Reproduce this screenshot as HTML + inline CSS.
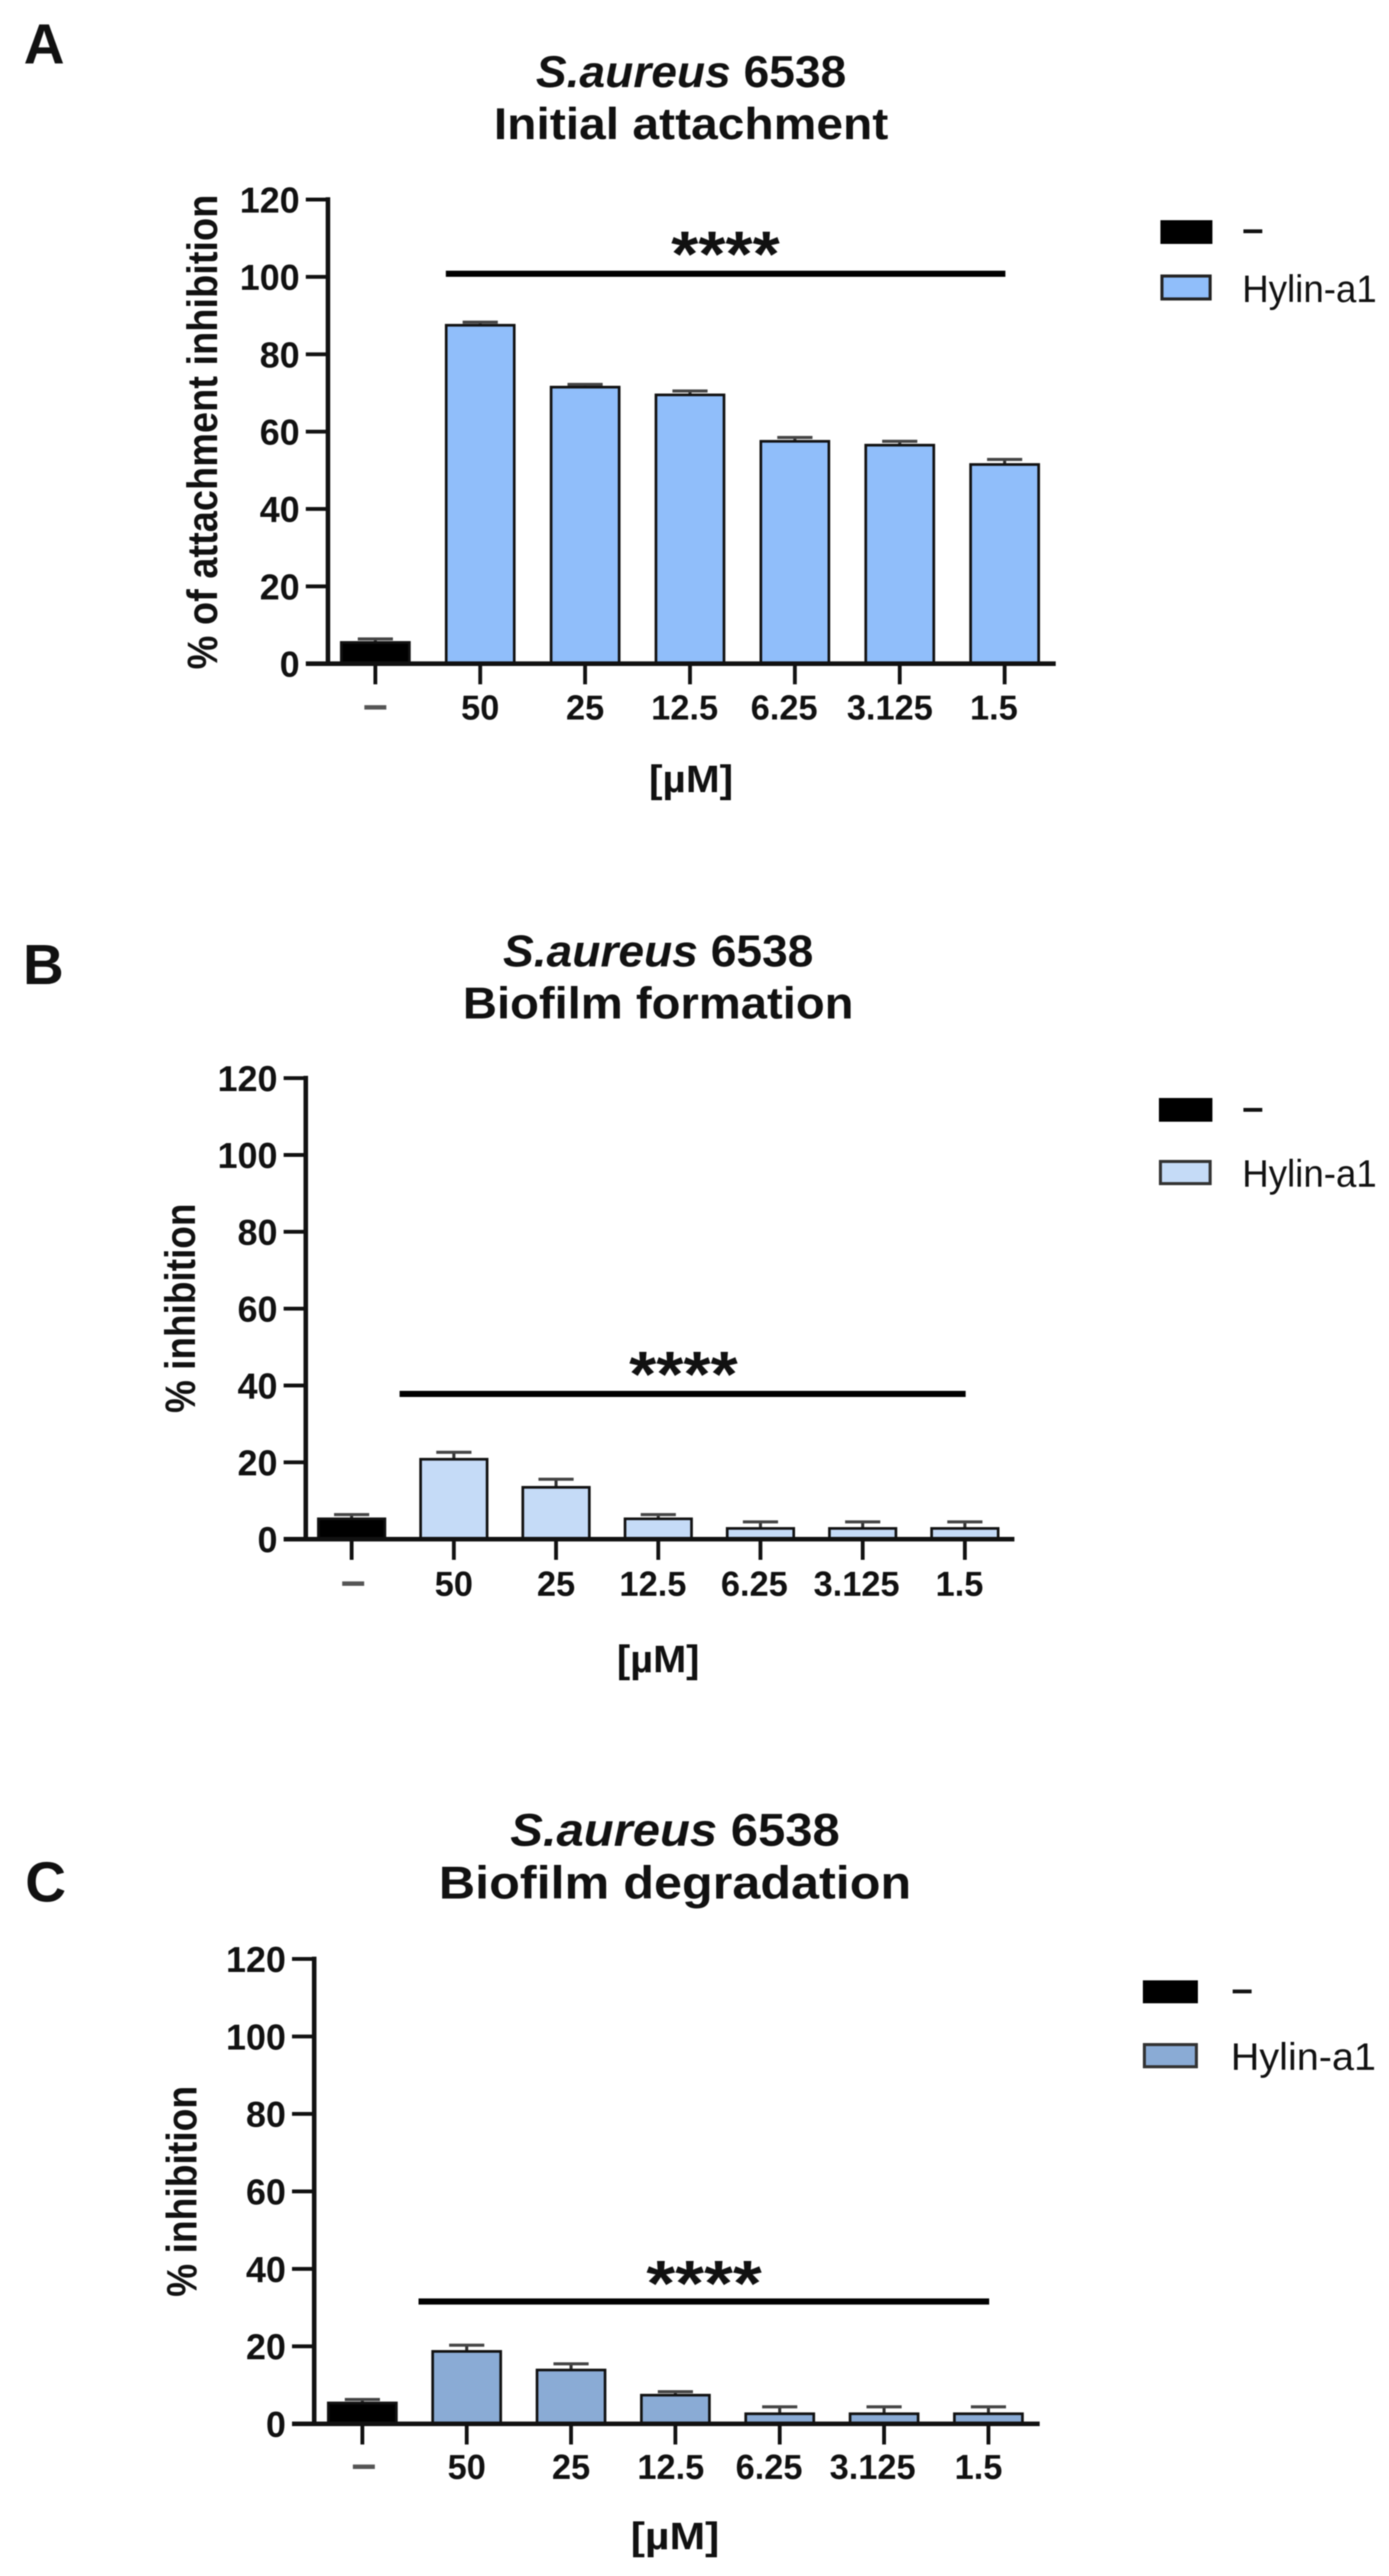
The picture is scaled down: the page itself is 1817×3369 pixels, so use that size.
<!DOCTYPE html>
<html lang="en">
<head>
<meta charset="utf-8">
<title>S.aureus 6538 Hylin-a1 inhibition charts</title>
<style>
html,body{margin:0;padding:0;background:#fff;}
body{width:1817px;height:3369px;overflow:hidden;}
svg{display:block;filter:blur(0.8px);}
text{font-family:"Liberation Sans",sans-serif;fill:#111;}
.b{font-weight:bold;}
</style>
</head>
<body>
<svg id="fig" xmlns="http://www.w3.org/2000/svg" width="1817" height="3369" viewBox="0 0 1817 3369">
  <rect x="0" y="0" width="1817" height="3369" fill="#fff"/>

  <text class="b" x="31" y="83" font-size="74">A</text>
  <text class="b" x="904" y="114" font-size="58" text-anchor="middle" textLength="406" lengthAdjust="spacingAndGlyphs"><tspan font-style="italic">S.aureus</tspan> 6538</text>
  <text class="b" x="904" y="182" font-size="58" text-anchor="middle" textLength="516" lengthAdjust="spacingAndGlyphs">Initial attachment</text>
  <text class="b" transform="translate(284,565) rotate(-90)" font-size="56" text-anchor="middle" textLength="621" lengthAdjust="spacingAndGlyphs">% of attachment inhibition</text>
  <text class="b" x="904" y="1036" font-size="50" text-anchor="middle" textLength="110" lengthAdjust="spacingAndGlyphs">[µM]</text>
  <text class="b" x="949" y="361" font-size="84" text-anchor="middle" textLength="142" lengthAdjust="spacingAndGlyphs">****</text>
  <rect x="1518" y="288" width="68" height="31" fill="#000"/>
  <text class="b" x="1625" y="316" font-size="50">–</text>
  <rect x="1520" y="361" width="63" height="30" fill="#90BEFA" stroke="#222" stroke-width="4"/>
  <text x="1625" y="395" font-size="50" textLength="176" lengthAdjust="spacingAndGlyphs">Hylin-a1</text>

  <text class="b" x="30" y="1287" font-size="74">B</text>
  <text class="b" x="861" y="1264" font-size="58" text-anchor="middle" textLength="406" lengthAdjust="spacingAndGlyphs"><tspan font-style="italic">S.aureus</tspan> 6538</text>
  <text class="b" x="861" y="1332" font-size="58" text-anchor="middle" textLength="511" lengthAdjust="spacingAndGlyphs">Biofilm formation</text>
  <text class="b" transform="translate(255,1711) rotate(-90)" font-size="56" text-anchor="middle" textLength="274" lengthAdjust="spacingAndGlyphs">% inhibition</text>
  <text class="b" x="861" y="2187" font-size="50" text-anchor="middle" textLength="108" lengthAdjust="spacingAndGlyphs">[µM]</text>
  <text class="b" x="894" y="1826" font-size="84" text-anchor="middle" textLength="142" lengthAdjust="spacingAndGlyphs">****</text>
  <rect x="1516" y="1436" width="70" height="31" fill="#000"/>
  <text class="b" x="1625" y="1465" font-size="50">–</text>
  <rect x="1518" y="1519" width="65" height="29" fill="#C5DBF7" stroke="#333" stroke-width="4"/>
  <text x="1625" y="1552" font-size="50" textLength="176" lengthAdjust="spacingAndGlyphs">Hylin-a1</text>

  <text class="b" x="33" y="2487" font-size="74">C</text>
  <text class="b" x="883" y="2414" font-size="60" text-anchor="middle" textLength="431" lengthAdjust="spacingAndGlyphs"><tspan font-style="italic">S.aureus</tspan> 6538</text>
  <text class="b" x="883" y="2483" font-size="60" text-anchor="middle" textLength="618" lengthAdjust="spacingAndGlyphs">Biofilm degradation</text>
  <text class="b" transform="translate(257,2866) rotate(-90)" font-size="56" text-anchor="middle" textLength="276" lengthAdjust="spacingAndGlyphs">% inhibition</text>
  <text class="b" x="883" y="3334" font-size="50" text-anchor="middle" textLength="116" lengthAdjust="spacingAndGlyphs">[µM]</text>
  <text class="b" x="921" y="3015" font-size="84" text-anchor="middle" textLength="151" lengthAdjust="spacingAndGlyphs">****</text>
  <rect x="1495" y="2590" width="72" height="30" fill="#000"/>
  <text class="b" x="1611" y="2618" font-size="50">–</text>
  <rect x="1497" y="2674" width="68" height="29" fill="#8AABD5" stroke="#333" stroke-width="4"/>
  <text x="1610" y="2707" font-size="50" textLength="190" lengthAdjust="spacingAndGlyphs">Hylin-a1</text>
</svg>
<script>
const categories = ['–', '50', '25', '12.5', '6.25', '3.125', '1.5'];
const yTickLabels = [0, 20, 40, 60, 80, 100, 120];
const panelAValues = [5.5, 87.5, 71.5, 69.5, 57.5, 56.5, 51.5];
const panelAErrors = [0.9, 0.8, 0.7, 1.0, 1.0, 1.0, 1.3];
const panelBValues = [5.3, 20.8, 13.5, 5.3, 2.8, 2.8, 2.8];
const panelBErrors = [1.1, 1.8, 2.1, 1.1, 1.7, 1.7, 1.7];
const panelCValues = [5.4, 18.7, 13.9, 7.4, 2.6, 2.6, 2.6];
const panelCErrors = [0.9, 1.6, 1.6, 0.9, 1.8, 1.8, 1.8];

const SVGNS = 'http://www.w3.org/2000/svg';
const fig = document.getElementById('fig');
function mk(tag, attrs) {
  const el = document.createElementNS(SVGNS, tag);
  for (const k in attrs) el.setAttribute(k, attrs[k]);
  fig.appendChild(el);
  return el;
}
function drawPanel(p, values, errors) {
  const yPx = v => p.y0 + (p.y120 - p.y0) * v / 120;
  const xPx = i => p.x0 + p.step * i;

  const yAxis = mk('line', {x1: p.axisX, x2: p.axisX, y1: p.y120 - 3, y2: p.y0 + 3, stroke: '#111', 'stroke-width': 6});
  
  

  yTickLabels.forEach(t => {
    const tick = mk('line', {x1: p.axisX - 29, x2: p.axisX, y1: yPx(t), y2: yPx(t), stroke: '#111', 'stroke-width': 5});
    
    
    const lab = mk('text', {x: p.axisX - 37, y: yPx(t) + 17, 'font-size': 47, 'text-anchor': 'end', class: 'b'});
    lab.textContent = t;
    
    
  });

  categories.forEach((c, i) => {
    const x = xPx(i);
    const isControl = i === 0;

    const errLine = mk('line', {x1: x, x2: x, y1: yPx(values[i]), y2: yPx(values[i] + errors[i]), stroke: '#333', 'stroke-width': 4});
    
    
    const cap = mk('line', {x1: x - 23, x2: x + 23, y1: yPx(values[i] + errors[i]), y2: yPx(values[i] + errors[i]), stroke: '#444', 'stroke-width': 4});
    
    

    const bar = mk('rect', {
      x: x - p.barW / 2, y: yPx(values[i]), width: p.barW, height: p.y0 - yPx(values[i]),
      fill: isControl ? '#000' : p.color, stroke: '#111', 'stroke-width': 3.5
    });
    
    

    const xt = mk('line', {x1: x, x2: x, y1: p.y0, y2: p.y0 + 27, stroke: '#111', 'stroke-width': 5});
    
    

    const lab = mk('text', {x: x + p.labelNudge[i], y: p.labelY, 'font-size': isControl ? 58 : 45, 'text-anchor': 'middle', class: 'b'});
    lab.textContent = c;
    if (isControl) lab.setAttribute('style', 'fill:#555');
    
    
  });

  const xAxis = mk('line', {x1: p.axisX - 29, x2: p.axisEnd, y1: p.y0, y2: p.y0, stroke: '#111', 'stroke-width': 6});
  
  

  const sig = mk('line', {x1: xPx(1) + p.sigStart, x2: xPx(6) + 1, y1: p.sigY, y2: p.sigY, stroke: '#000', 'stroke-width': 8});
  
  
}
drawPanel({axisX: 429, axisEnd: 1381, y0: 868, y120: 261, x0: 491, step: 137.2, barW: 89, color: '#90BEFA', labelY: 941, labelNudge: [0, 0, 0, -7, -14, -13, -14], sigY: 358, sigStart: -45}, panelAValues, panelAErrors);
drawPanel({axisX: 400, axisEnd: 1327, y0: 2013, y120: 1410, x0: 460, step: 133.7, barW: 87, color: '#C5DBF7', labelY: 2087, labelNudge: [2, 0, 0, -7, -8, -8, -7], sigY: 1823, sigStart: -71}, panelBValues, panelBErrors);
drawPanel({axisX: 411, axisEnd: 1360, y0: 3170, y120: 2562, x0: 474, step: 136.5, barW: 89, color: '#8AABD5', labelY: 3242, labelNudge: [2, 0, 0, -6, -14, -15, -13], sigY: 3010, sigStart: -63}, panelCValues, panelCErrors);
</script>
</body>
</html>
